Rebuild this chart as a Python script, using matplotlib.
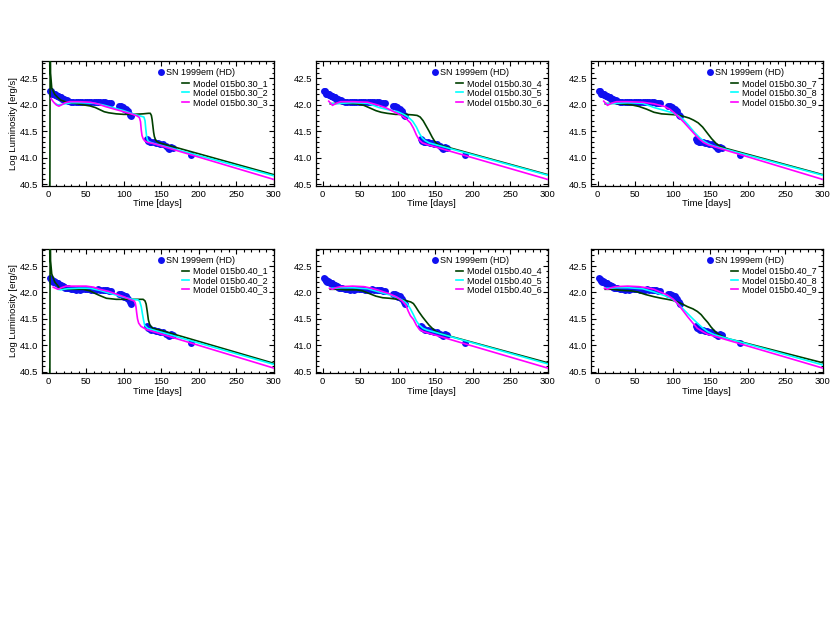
import numpy as np
import matplotlib
matplotlib.use('Agg')
import matplotlib.pyplot as plt

plt.rcParams['font.family'] = ['Liberation Sans', 'DejaVu Sans']

# SN 1999em observed light curve (days, log L)
obs_day = [1.5, 3, 4, 5, 6, 7, 8, 9, 10, 11, 12, 13, 14, 15, 16, 17, 18, 19, 20, 21, 22, 24, 26,
           30, 33, 36, 39, 42, 45, 48, 51, 54, 57, 60, 63, 66, 69, 72, 75, 78, 81, 83,
           94, 96, 99, 101, 103, 105, 106, 108, 110,
           131, 132, 133, 135, 137, 140, 143, 146, 149, 152, 156, 159, 160, 163, 166, 190]
obs_logL = [42.27, 42.26, 42.21, 42.23, 42.20, 42.21, 42.19, 42.20, 42.18, 42.17, 42.17, 42.16, 42.15,
            42.15, 42.14, 42.13, 42.12, 42.12, 42.11, 42.10, 42.09, 42.09, 42.08,
            42.06, 42.06, 42.05, 42.06, 42.05, 42.06, 42.06, 42.06, 42.06, 42.05, 42.05, 42.05, 42.06,
            42.05, 42.05, 42.05, 42.04, 42.03, 42.03,
            41.97, 41.98, 41.95, 41.92, 41.93, 41.89, 41.88, 41.81, 41.79,
            41.36, 41.32, 41.34, 41.30, 41.29, 41.29, 41.28, 41.27, 41.26, 41.25, 41.22, 41.19, 41.17,
            41.21, 41.19, 41.05]

# models 015b0.30_1 .. _9
b30_1_t = [1.4, 1.9, 2.4, 4, 8, 12, 16, 24, 35, 46, 55, 62, 68, 74, 80, 90, 100, 112, 126, 133,
           135.5, 137, 138, 139, 140, 141, 142.5, 144, 148, 300]
b30_1_L = [39.5, 43.5, 42.6, 42.32, 42.2, 42.14, 42.09, 42.05, 42.03, 42.0, 41.98, 41.95, 41.91, 41.87,
           41.85, 41.83, 41.82, 41.82, 41.83, 41.84, 41.84, 41.8, 41.72, 41.6, 41.48, 41.4, 41.34,
           41.31, 41.28, 40.68]
b30_2_t = [8, 12, 18, 30, 45, 60, 72, 85, 100, 112, 122, 127, 128.5, 129.5, 130.5, 131.5, 133, 136, 140, 300]
b30_2_L = [42.03, 42.0, 42.01, 42.04, 42.04, 42.03, 42.0, 41.95, 41.89, 41.83, 41.79, 41.77, 41.7,
           41.55, 41.42, 41.35, 41.31, 41.29, 41.27, 40.66]
b30_3_t = [3, 6, 10, 13.5, 17, 22, 28, 40, 55, 65, 75, 90, 100, 112, 118, 121, 122.5, 123.5, 124.5,
           126, 128, 132, 139, 300]
b30_3_L = [42.12, 42.06, 42.0, 41.975, 42.0, 42.04, 42.06, 42.06, 42.05, 42.02, 41.97, 41.91, 41.87,
           41.82, 41.79, 41.76, 41.68, 41.52, 41.42, 41.36, 41.32, 41.29, 41.27, 40.59]
b30_4_t = [10, 20, 31, 45, 55, 63, 71, 78, 86, 97, 110, 120, 126, 130, 134, 138, 142, 146, 149, 152, 156, 300]
b30_4_L = [42.02, 42.03, 42.03, 42.02, 41.99, 41.94, 41.89, 41.86, 41.84, 41.82, 41.82, 41.81, 41.8,
           41.77, 41.7, 41.6, 41.5, 41.39, 41.32, 41.27, 41.24, 40.68]
b30_5_t = [10, 15, 25, 40, 60, 75, 90, 100, 108, 114, 120, 125, 129, 133, 137, 142, 300]
b30_5_L = [42.03, 42.02, 42.03, 42.04, 42.03, 41.95, 41.9, 41.87, 41.82, 41.77, 41.69, 41.58, 41.46,
           41.37, 41.32, 41.28, 40.67]
b30_6_t = [8, 13, 18, 24, 40, 60, 75, 85, 95, 105, 112, 117, 121, 125, 129, 133, 139, 300]
b30_6_L = [42.07, 41.99, 42.03, 42.06, 42.06, 42.05, 41.99, 41.94, 41.87, 41.8, 41.73, 41.66, 41.56,
           41.43, 41.33, 41.28, 41.25, 40.59]
b30_7_t = [10, 20, 31, 45, 55, 65, 75, 85, 95, 106, 115, 122, 128, 134, 140, 146, 152, 158, 164, 170, 300]
b30_7_L = [42.02, 42.03, 42.02, 42.0, 41.97, 41.92, 41.86, 41.83, 41.82, 41.81, 41.78, 41.75, 41.71,
           41.66, 41.58, 41.47, 41.36, 41.27, 41.21, 41.18, 40.68]
b30_8_t = [10, 15, 25, 40, 60, 75, 90, 100, 108, 115, 122, 129, 136, 142, 148, 155, 300]
b30_8_L = [42.03, 42.02, 42.03, 42.04, 42.03, 41.95, 41.89, 41.85, 41.79, 41.71, 41.6, 41.48, 41.38,
           41.31, 41.26, 41.22, 40.67]
b30_9_t = [8, 13, 18, 25, 40, 60, 75, 89, 96, 102, 108, 115, 122, 129, 135, 141, 148, 300]
b30_9_L = [42.07, 41.99, 42.03, 42.06, 42.06, 42.05, 42.02, 41.97, 41.92, 41.85, 41.77, 41.67, 41.56,
           41.45, 41.36, 41.29, 41.24, 40.59]

# models 015b0.40_1 .. _9
b40_1_t = [1.4, 1.9, 2.4, 4, 8, 14.7, 20, 30, 46, 55, 62, 70, 77, 90, 112, 126, 128.5, 130, 131.5,
           133, 135, 139, 148, 300]
b40_1_L = [39.5, 43.5, 42.6, 42.35, 42.2, 42.08, 42.06, 42.06, 42.06, 42.03, 41.98, 41.93, 41.89,
           41.87, 41.87, 41.87, 41.84, 41.78, 41.64, 41.48, 41.38, 41.32, 41.29, 40.66]
b40_2_t = [12, 16, 25, 40, 55, 68, 80, 90, 100, 112, 119, 121.5, 123.5, 125, 126.5, 128, 132, 300]
b40_2_L = [42.06, 42.05, 42.07, 42.08, 42.08, 42.04, 41.99, 41.95, 41.91, 41.87, 41.86, 41.83, 41.73,
           41.6, 41.48, 41.38, 41.32, 40.64]
b40_3_t = [6, 9, 12.5, 17, 23, 35, 50, 60, 68, 80, 90, 100, 108, 114, 115.5, 116.5, 117.5, 118.5,
           120, 123, 130, 300]
b40_3_L = [42.1, 42.08, 42.06, 42.09, 42.12, 42.12, 42.12, 42.1, 42.06, 42.02, 41.97, 41.92, 41.87,
           41.84, 41.8, 41.72, 41.6, 41.5, 41.42, 41.36, 41.3, 40.57]
b40_4_t = [10, 20, 31, 45, 53, 62, 71, 80, 89, 100, 110, 117.5, 121, 124, 128, 133, 138, 142, 147,
           151, 156, 160, 300]
b40_4_L = [42.06, 42.06, 42.05, 42.05, 42.03, 41.98, 41.93, 41.9, 41.89, 41.87, 41.85, 41.82, 41.79,
           41.73, 41.64, 41.54, 41.45, 41.38, 41.31, 41.26, 41.23, 41.21, 40.67]
b40_5_t = [12, 16, 25, 40, 60, 75, 90, 100, 108, 113, 117, 121, 125, 129, 134, 139, 300]
b40_5_L = [42.08, 42.08, 42.09, 42.09, 42.07, 42.01, 41.95, 41.9, 41.84, 41.78, 41.69, 41.58, 41.46,
           41.38, 41.32, 41.29, 40.65]
b40_6_t = [9, 13, 18, 24, 40, 55, 65, 75, 88, 98, 106, 111, 114, 117, 121, 125, 129, 134, 300]
b40_6_L = [42.08, 42.06, 42.09, 42.11, 42.12, 42.11, 42.08, 42.04, 41.98, 41.92, 41.84, 41.76, 41.65,
           41.56, 41.49, 41.38, 41.3, 41.26, 40.57]
b40_7_t = [10, 20, 31, 45, 53, 64, 75, 85, 93, 100, 106.5, 113, 120, 127, 133, 138, 142, 147, 151,
           156, 160, 166, 175, 187, 300]
b40_7_L = [42.06, 42.06, 42.04, 42.03, 42.01, 41.96, 41.92, 41.89, 41.87, 41.85, 41.82, 41.78, 41.73,
           41.69, 41.64, 41.58, 41.51, 41.43, 41.35, 41.27, 41.22, 41.17, 41.12, 41.08, 40.67]
b40_8_t = [12, 16, 25, 40, 60, 75, 85, 93, 100, 106.5, 113, 120, 127, 133, 140, 146.5, 155.5, 300]
b40_8_L = [42.08, 42.08, 42.09, 42.09, 42.07, 42.01, 41.96, 41.92, 41.87, 41.79, 41.7, 41.6, 41.5,
           41.42, 41.33, 41.26, 41.2, 40.63]
b40_9_t = [9, 13, 18, 24, 40, 55, 65, 75, 85, 93, 100, 106.5, 113, 120, 127, 133, 140, 146.5, 300]
b40_9_L = [42.08, 42.06, 42.09, 42.11, 42.12, 42.11, 42.09, 42.06, 42.0, 41.95, 41.88, 41.79, 41.67,
           41.54, 41.42, 41.32, 41.26, 41.21, 40.57]

panels = [
    [('015b0.30_1', b30_1_t, b30_1_L), ('015b0.30_2', b30_2_t, b30_2_L), ('015b0.30_3', b30_3_t, b30_3_L)],
    [('015b0.30_4', b30_4_t, b30_4_L), ('015b0.30_5', b30_5_t, b30_5_L), ('015b0.30_6', b30_6_t, b30_6_L)],
    [('015b0.30_7', b30_7_t, b30_7_L), ('015b0.30_8', b30_8_t, b30_8_L), ('015b0.30_9', b30_9_t, b30_9_L)],
    [('015b0.40_1', b40_1_t, b40_1_L), ('015b0.40_2', b40_2_t, b40_2_L), ('015b0.40_3', b40_3_t, b40_3_L)],
    [('015b0.40_4', b40_4_t, b40_4_L), ('015b0.40_5', b40_5_t, b40_5_L), ('015b0.40_6', b40_6_t, b40_6_L)],
    [('015b0.40_7', b40_7_t, b40_7_L), ('015b0.40_8', b40_8_t, b40_8_L), ('015b0.40_9', b40_9_t, b40_9_L)],
]
model_colors = ['#004000', '#00ffff', '#ff00ff']

W, H = 830, 623
fig = plt.figure(figsize=(W / 100, H / 100), dpi=100)
fs = 6.8
leg_fs = 6.5

lefts = [42, 316, 591]
tops = [61, 248.6]
aw, ah = 231.5, 124.7

for i, models in enumerate(panels):
    row, col = divmod(i, 3)
    ax = fig.add_axes([lefts[col] / W, 1 - (tops[row] + ah) / H, aw / W, ah / H])

    # observed points first, models on top
    ax.plot(obs_day, obs_logL, 'o', color='#1010f0', ms=5, mec='none', zorder=2)
    lines = []
    for (name, t, L), c in zip(models, model_colors):
        ln, = ax.plot(t, L, color=c, lw=1.2, zorder=3)
        lines.append(ln)

    ax.set_xlim(-9, 300)
    ax.set_ylim(40.47, 42.83)
    ax.set_xticks(np.arange(0, 301, 50))
    ax.set_xticks(np.arange(0, 301, 10), minor=True)
    ax.set_yticks([40.5, 41.0, 41.5, 42.0, 42.5])
    ax.set_yticks(np.arange(40.5, 42.81, 0.1), minor=True)
    ax.tick_params(which='both', direction='in', top=True, right=True, labelsize=fs, width=0.8)
    ax.tick_params(which='major', length=3.5, pad=3)
    ax.tick_params(which='minor', length=1.8)
    for s in ax.spines.values():
        s.set_linewidth(0.9)

    ax.set_xlabel('Time [days]', fontsize=fs)
    ax.xaxis.set_label_coords(0.5, -0.11)
    if col == 0:
        ax.set_ylabel('Log Luminosity [erg/s]', fontsize=fs)
        ax.yaxis.set_label_coords(-0.105, 0.5)

    # legend: data point entry, then the three models
    sn = ax.plot([], [], 'o', color='#1010f0', ms=5, mec='none')[0]
    leg1 = ax.legend([sn], ['SN 1999em (HD)'], loc='upper left', bbox_to_anchor=(0.505, 0.94),
                     frameon=False, fontsize=leg_fs, handlelength=0.5, handletextpad=0.25,
                     borderpad=0, borderaxespad=0)
    ax.add_artist(leg1)
    ax.legend(lines, ['Model ' + m[0] for m in models], loc='upper left',
              bbox_to_anchor=(0.605, 0.855), frameon=False, fontsize=leg_fs, handlelength=0.8,
              handletextpad=0.4, labelspacing=0.05, borderpad=0, borderaxespad=0)

plt.savefig('out.png', dpi=100)
